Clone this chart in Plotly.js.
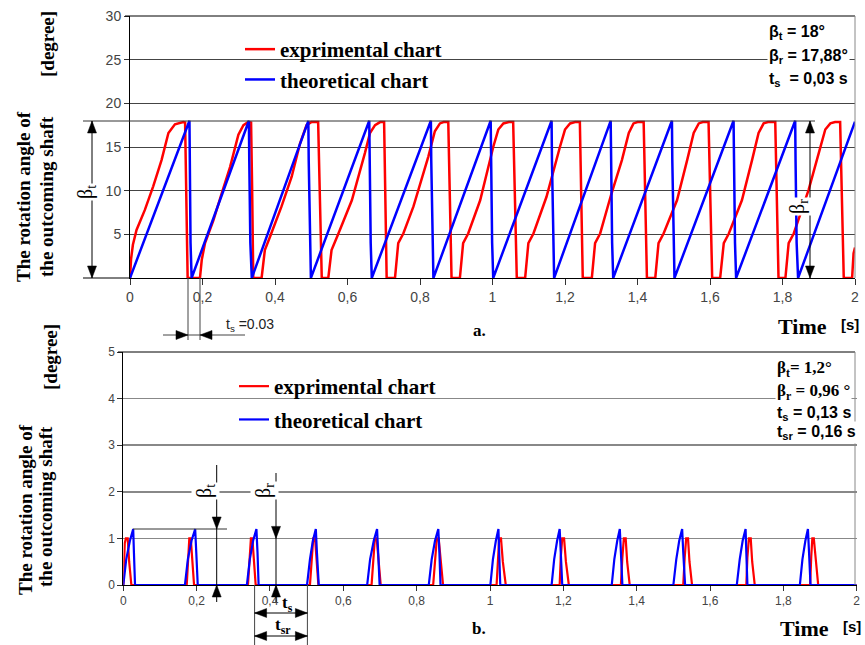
<!DOCTYPE html>
<html>
<head>
<meta charset="utf-8">
<script src="https://cdn.plot.ly/plotly-3.0.1.min.js"></script>
<style>html,body{margin:0;padding:0;background:#fff;}#chart{width:865px;height:645px;}</style>
</head>
<body>
<div id="chart"></div>
<script>
// ---------- DATA ----------
// a. rotation angle, 18 degree steps
const expTopX = [0,0.003,0.008,0.018,0.041,0.064,0.087,0.106,0.124,0.147,0.152,0.155,0.159,
  0.193,0.198,0.207,0.230,0.253,0.276,0.299,0.313,0.326,0.334,0.337,0.340,
  0.363,0.372,0.386,0.418,0.446,0.469,0.487,0.500,0.519,0.523,0.529,
  0.547,0.556,0.575,0.612,0.648,0.662,0.676,0.690,0.701,0.704,0.708,
  0.731,0.740,0.754,0.782,0.823,0.841,0.855,0.865,0.878,0.882,0.887,
  0.910,0.919,0.933,0.966,1.002,1.016,1.030,1.045,1.057,1.061,1.067,
  1.090,1.099,1.113,1.149,1.186,1.200,1.214,1.228,1.241,1.245,1.249,
  1.274,1.283,1.297,1.327,1.357,1.376,1.389,1.400,1.417,1.421,1.426,
  1.449,1.458,1.472,1.509,1.537,1.555,1.569,1.580,1.596,1.600,1.606,
  1.628,1.638,1.652,1.688,1.716,1.734,1.748,1.760,1.780,1.784,1.789,
  1.808,1.817,1.831,1.872,1.900,1.918,1.932,1.945,1.959,1.963,1.969,
  1.992,1.996,2.0];
const expTopY = [0,2.2,3.8,5.5,7.8,10.5,13.5,16.6,17.6,17.85,17.8,10,0,
  0,2.1,4.0,6.6,9.7,12.7,16.4,17.5,17.85,17.8,10,0,
  0,3.2,4.7,8.2,11.6,15.4,17.5,17.85,17.85,10,0,
  0,3.2,5.1,8.9,14.3,16.6,17.5,17.85,17.85,10,0,
  0,4.0,5.1,8.2,13.9,16.8,17.7,17.85,17.85,10,0,
  0,4.0,5.1,8.9,15.0,17.0,17.7,17.85,17.85,10,0,
  0,4.0,5.1,9.3,15.0,17.0,17.7,17.85,17.85,10,0,
  0,4.0,5.1,9.5,13.5,16.6,17.7,17.85,17.85,10,0,
  0,4.0,5.1,8.9,13.5,16.6,17.7,17.85,17.85,10,0,
  0,4.0,5.1,8.9,13.5,16.6,17.7,17.85,17.85,10,0,
  0,4.0,5.1,10.1,14.3,17.0,17.7,17.85,17.85,10,0,
  0,2.8,3.5];
const theoTopX = [0,0.164,0.165,0.167,0.170,0.328,0.329,0.332,0.336,0.492,0.493,0.496,0.499,
  0.660,0.661,0.664,0.667,0.830,0.831,0.834,0.837,0.995,0.996,0.999,1.002,
  1.163,1.164,1.167,1.170,1.326,1.327,1.330,1.333,1.495,1.496,1.499,1.502,
  1.665,1.666,1.669,1.672,1.835,1.836,1.839,1.843,2.0];
const theoTopY = [0,18,13.5,4,0,18,13.5,4,0,18,13.5,4,0,
  18,13.5,4,0,18,13.5,4,0,18,13.5,4,0,
  18,13.5,4,0,18,13.5,4,0,18,13.5,4,0,
  18,13.5,4,0,18,13.5,4,0,17.9];

// b. rotation angle, 1.2 degree steps
const expBotX = [0,0.004,0.007,0.012,0.016,0.022,
  0.173,0.177,0.180,0.184,0.188,0.193,
  0.340,0.344,0.348,0.352,0.356,0.361,
  0.509,0.514,0.518,0.523,0.527,0.532,
  0.677,0.682,0.686,0.691,0.696,0.702,
  0.845,0.850,0.855,0.860,0.865,0.872,
  1.018,1.022,1.025,1.030,1.035,1.043,
  1.190,1.193,1.197,1.202,1.207,1.215,
  1.357,1.361,1.365,1.370,1.374,1.381,
  1.527,1.531,1.535,1.540,1.544,1.551,
  1.699,1.702,1.706,1.711,1.715,1.722,
  1.873,1.876,1.879,1.883,1.888,1.895,
  2.0];
const expBotY = [0,0.9,1.0,1.0,0.5,0,
  0,0.6,1.0,1.0,0.5,0,
  0,0.6,1.0,1.0,0.5,0,
  0,0.6,1.0,1.0,0.5,0,
  0,0.6,1.0,1.0,0.5,0,
  0,0.6,1.0,1.0,0.5,0,
  0,0.6,1.0,1.0,0.5,0,
  0,0.6,1.0,1.0,0.5,0,
  0,0.6,1.0,1.0,0.5,0,
  0,0.6,1.0,1.0,0.5,0,
  0,0.6,1.0,1.0,0.5,0,
  0,0.6,1.0,1.0,0.5,0,
  0];
const theoBotX = [0,0.008,0.018,0.027,0.029,0.032,
  0.168,0.176,0.186,0.196,0.199,0.203,
  0.337,0.345,0.354,0.363,0.366,0.369,
  0.501,0.509,0.517,0.525,0.528,0.533,
  0.665,0.673,0.683,0.692,0.695,0.699,
  0.833,0.841,0.850,0.859,0.862,0.865,
  1.001,1.008,1.016,1.023,1.025,1.028,
  1.168,1.175,1.183,1.190,1.193,1.197,
  1.332,1.339,1.347,1.354,1.357,1.361,
  1.500,1.508,1.516,1.524,1.527,1.532,
  1.673,1.681,1.689,1.697,1.699,1.702,
  1.845,1.852,1.860,1.867,1.870,1.874,
  2.0];
const theoBotY = [0,0.55,0.95,1.2,0.7,0,
  0,0.55,0.95,1.2,0.7,0,
  0,0.55,0.95,1.2,0.7,0,
  0,0.55,0.95,1.2,0.7,0,
  0,0.55,0.95,1.2,0.7,0,
  0,0.55,0.95,1.2,0.7,0,
  0,0.55,0.95,1.2,0.7,0,
  0,0.55,0.95,1.2,0.7,0,
  0,0.55,0.95,1.2,0.7,0,
  0,0.55,0.95,1.2,0.7,0,
  0,0.55,0.95,1.2,0.7,0,
  0,0.55,0.95,1.2,0.7,0,
  0];

const seriesNames = ['exprimental chart', 'theoretical chart'];
const xTickVals = [0,0.2,0.4,0.6,0.8,1,1.2,1.4,1.6,1.8,2];
const xTickText = ['0','0,2','0,4','0,6','0,8','1','1,2','1,4','1,6','1,8','2'];
const yTopTicks = [5,10,15,20,25,30];
const yBotTicks = [0,1,2,3,4,5];

// ---------- helpers for pixel placement of decorations ----------
const W = 865, H = 645;
const P = px => px / W;
const Q = py => 1 - py / H;
const SERIF = 'Liberation Serif, Times New Roman, serif';
const SANS = 'Liberation Sans, Arial, sans-serif';

const RED = '#ff0000', BLUE = '#0000ff';

const traces = [
  {x: expTopX, y: expTopY, xaxis: 'x', yaxis: 'y', mode: 'lines', name: '<b>' + seriesNames[0] + '</b>',
   line: {color: RED, width: 2.5}, legend: 'legend', legendgroup: 'a'},
  {x: theoTopX, y: theoTopY, xaxis: 'x', yaxis: 'y', mode: 'lines', name: '<b>' + seriesNames[1] + '</b>',
   line: {color: BLUE, width: 2.5}, legend: 'legend', legendgroup: 'b'},
  {x: expBotX, y: expBotY, xaxis: 'x2', yaxis: 'y2', mode: 'lines', name: '<b>' + seriesNames[0] + '</b>',
   line: {color: RED, width: 2.2}, legend: 'legend2', legendgroup: 'c'},
  {x: theoBotX, y: theoBotY, xaxis: 'x2', yaxis: 'y2', mode: 'lines', name: '<b>' + seriesNames[1] + '</b>',
   line: {color: BLUE, width: 2.2}, legend: 'legend2', legendgroup: 'd'}
];

function txt(px, py, text, opt) {
  return Object.assign({xref: 'paper', yref: 'paper', x: P(px), y: Q(py), text: text, showarrow: false,
    xanchor: 'center', yanchor: 'middle', font: {family: SERIF, size: 17, color: '#000'}}, opt || {});
}
function seg(x0, y0, x1, y1, color, w) {
  return {type: 'line', xref: 'paper', yref: 'paper', x0: P(x0), y0: Q(y0), x1: P(x1), y1: Q(y1),
    line: {color: color || '#000', width: w || 1}, layer: 'above'};
}
// filled arrowhead, tip at pixel (px,py), pointing in direction dir
function tri(px, py, dir) {
  const l = 12, w = 4.5;
  let pts;
  if (dir === 'up') pts = [[px, py], [px - w, py + l], [px + w, py + l]];
  else if (dir === 'down') pts = [[px, py], [px - w, py - l], [px + w, py - l]];
  else if (dir === 'left') pts = [[px, py], [px + l, py - w], [px + l, py + w]];
  else pts = [[px, py], [px - l, py - w], [px - l, py + w]];
  const d = 'M' + pts.map(p => P(p[0]).toFixed(5) + ',' + Q(p[1]).toFixed(5)).join(' L') + ' Z';
  return {type: 'path', xref: 'paper', yref: 'paper', path: d, fillcolor: '#000',
    line: {color: '#000', width: 0.5}, layer: 'above'};
}

const shapes = [
  // frames
  seg(125, 16, 855, 16, '#000'),
  seg(855, 16, 855, 278, '#888'),
  seg(118, 352, 855, 352, '#000'),
  seg(855, 352, 855, 585, '#888'),
  // a: reference lines for beta_t / beta_r
  seg(83, 121, 815, 121, '#333'),
  seg(83, 278, 130, 278, '#000'),
  seg(92, 121, 92, 278, '#000'),
  seg(810, 121, 810, 278, '#000'),
  // a: ts marker
  seg(188, 278, 188, 340, '#444'),
  seg(200, 278, 200, 340, '#444'),
  seg(163, 335, 245, 335, '#444'),
  // b: beta_t / beta_r
  seg(133, 529, 227, 529, '#333'),
  seg(216.7, 465, 216.7, 602, '#000'),
  seg(276, 473, 276, 602, '#000'),
  // b: ts / tsr markers
  seg(254.6, 585, 254.6, 645, '#444'),
  seg(307.4, 585, 307.4, 645, '#444'),
  seg(254.6, 613, 307.4, 613, '#000'),
  seg(254.6, 636, 307.4, 636, '#000'),
  // arrowheads
  tri(92, 121, 'up'), tri(92, 278, 'down'),
  tri(810, 121, 'up'), tri(810, 278, 'down'),
  tri(188, 335, 'right'), tri(200, 335, 'left'),
  tri(216.7, 529, 'down'), tri(216.7, 585, 'up'),
  tri(276, 538.4, 'down'), tri(276, 585, 'up'),
  tri(254.6, 613, 'left'), tri(307.4, 613, 'right'),
  tri(254.6, 636, 'left'), tri(307.4, 636, 'right')
];

const annotations = [
  // y titles (a)
  txt(23, 197, '<b>The rotation angle of</b>', {textangle: -90, font: {family: SERIF, size: 19, color: '#000'}}),
  txt(46, 197, '<b>the outcoming shaft</b>', {textangle: -90, font: {family: SERIF, size: 19, color: '#000'}}),
  txt(48, 44, '<b>[degree]</b>', {textangle: -90, font: {family: SERIF, size: 19, color: '#000'}}),
  // y titles (b)
  txt(25, 510, '<b>The rotation angle of</b>', {textangle: -90, font: {family: SERIF, size: 19, color: '#000'}}),
  txt(45, 507, '<b>the outcoming shaft</b>', {textangle: -90, font: {family: SERIF, size: 19, color: '#000'}}),
  txt(50, 357, '<b>[degree]</b>', {textangle: -90, font: {family: SERIF, size: 19, color: '#000'}}),
  // right info (a)
  txt(767, 32, '<b>β<sub>t</sub> = 18°</b>', {xanchor: 'left', bgcolor: '#fff', font: {family: SANS, size: 16, color: '#000'}}),
  txt(767, 57, '<b>β<sub>r</sub> = 17,88°</b>', {xanchor: 'left', bgcolor: '#fff', font: {family: SANS, size: 16, color: '#000'}}),
  txt(767, 79, '<b>t<sub>s</sub>  = 0,03 s</b>', {xanchor: 'left', bgcolor: '#fff', font: {family: SANS, size: 16, color: '#000'}}),
  // right info (b)
  txt(775, 369, '<b>β<sub>t</sub>= 1,2°</b>', {xanchor: 'left', bgcolor: '#fff', font: {family: SERIF, size: 17, color: '#000'}}),
  txt(775, 392, '<b>β<sub>r</sub> = 0,96 °</b>', {xanchor: 'left', bgcolor: '#fff', font: {family: SERIF, size: 17, color: '#000'}}),
  txt(775, 413, '<b>t<sub>s</sub> = 0,13 s</b>', {xanchor: 'left', bgcolor: '#fff', font: {family: SANS, size: 16, color: '#000'}}),
  txt(775, 433, '<b>t<sub>sr</sub> = 0,16 s</b>', {xanchor: 'left', bgcolor: '#fff', font: {family: SANS, size: 16, color: '#000'}}),
  // axis titles
  txt(802, 326, '<b>Time</b>', {font: {family: SERIF, size: 22, color: '#000'}}),
  txt(850, 324, '<b>[s]</b>', {font: {family: SANS, size: 15, color: '#000'}}),
  txt(804, 628, '<b>Time</b>', {font: {family: SERIF, size: 22, color: '#000'}}),
  txt(852, 626, '<b>[s]</b>', {font: {family: SANS, size: 15, color: '#000'}}),
  txt(479, 330, '<b>a.</b>', {font: {family: SERIF, size: 17, color: '#000'}}),
  txt(479, 628, '<b>b.</b>', {font: {family: SERIF, size: 17, color: '#000'}}),
  // beta labels (a)
  txt(86, 192, 'β<sub>t</sub>', {textangle: -90, bgcolor: '#fff', font: {family: SERIF, size: 20, color: '#000'}}),
  txt(798, 207, 'β<sub>r</sub>', {textangle: -90, bgcolor: '#fff', font: {family: SERIF, size: 20, color: '#000'}}),
  txt(250, 325, 't<sub>s</sub> =0.03', {font: {family: SANS, size: 14, color: '#222'}}),
  // beta labels (b)
  txt(205, 491, 'β<sub>t</sub>', {textangle: -90, bgcolor: '#fff', font: {family: SERIF, size: 20, color: '#000'}}),
  txt(264, 491, 'β<sub>r</sub>', {textangle: -90, bgcolor: '#fff', font: {family: SERIF, size: 20, color: '#000'}}),
  txt(287, 604, '<b>t<sub>s</sub></b>', {font: {family: SERIF, size: 17, color: '#000'}}),
  txt(283, 626, '<b>t<sub>sr</sub></b>', {font: {family: SERIF, size: 17, color: '#000'}})
];

const axisCommon = {showline: true, linecolor: '#000', linewidth: 1, ticks: 'outside', tickcolor: '#333',
  zeroline: false, fixedrange: true};

const layout = {
  width: W, height: H,
  margin: {l: 0, r: 0, t: 0, b: 0},
  paper_bgcolor: '#fff', plot_bgcolor: '#fff',
  font: {family: SANS, color: '#333'},
  xaxis: Object.assign({}, axisCommon, {domain: [P(130), P(855)], range: [0, 2], anchor: 'y',
    tickvals: xTickVals, ticktext: xTickText, ticklen: 6, showgrid: false,
    tickfont: {family: SANS, size: 14, color: '#444'}}),
  yaxis: Object.assign({}, axisCommon, {domain: [Q(278), Q(16)], range: [0, 30], anchor: 'x',
    tickvals: yTopTicks, ticklen: 5, showgrid: true, gridcolor: '#444', gridwidth: 1,
    tickfont: {family: SANS, size: 14, color: '#444'}}),
  xaxis2: Object.assign({}, axisCommon, {domain: [P(123.3), P(856.7)], range: [0, 2], anchor: 'y2',
    tickvals: xTickVals, ticktext: xTickText, ticklen: 5, showgrid: false,
    tickfont: {family: SANS, size: 12, color: '#444'}}),
  yaxis2: Object.assign({}, axisCommon, {domain: [Q(585), Q(352)], range: [0, 5], anchor: 'x2',
    tickvals: yBotTicks, ticklen: 5, showgrid: true, gridcolor: '#888', gridwidth: 1.5,
    tickfont: {family: SANS, size: 12, color: '#444'}}),
  showlegend: true,
  legend: {x: P(240), y: Q(29), xanchor: 'left', yanchor: 'top', bgcolor: 'rgba(0,0,0,0)',
    font: {family: SERIF, size: 21, color: '#000', weight: 'bold'}, tracegroupgap: 0},
  legend2: {x: P(234), y: Q(366), xanchor: 'left', yanchor: 'top', bgcolor: 'rgba(0,0,0,0)',
    font: {family: SERIF, size: 21, color: '#000', weight: 'bold'}, tracegroupgap: 3},
  shapes: shapes,
  annotations: annotations
};

Plotly.newPlot('chart', traces, layout, {displayModeBar: false, staticPlot: true});
</script>
</body>
</html>
